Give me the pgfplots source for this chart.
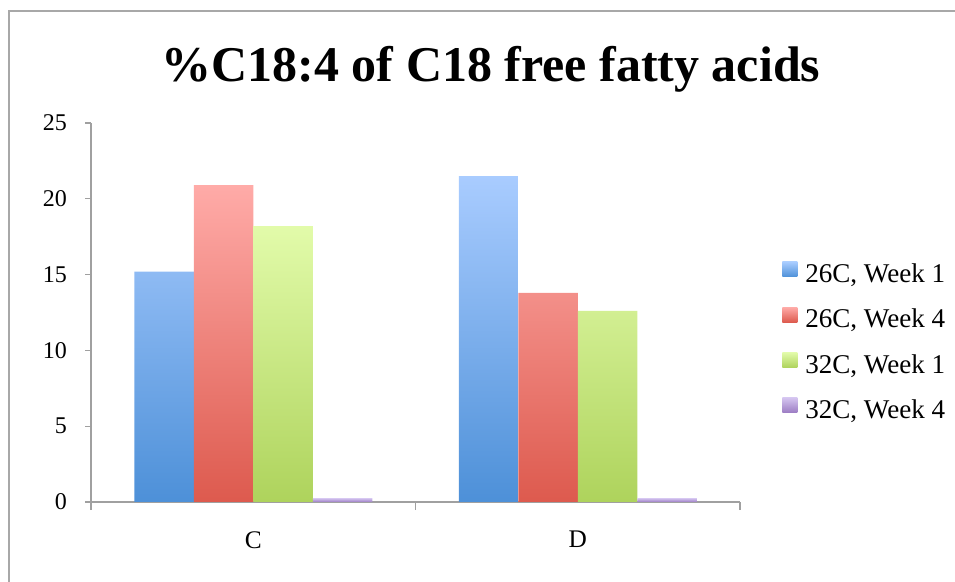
\documentclass[border=0pt]{standalone}
\usepackage{fontspec}
\setmainfont{Liberation Serif}
\usepackage{pgfplots}
\pgfplotsset{compat=1.18}
\definecolor{blueT}{HTML}{A9CCFF}
\definecolor{blueB}{HTML}{4D90D8}
\definecolor{redT}{HTML}{FFABA8}
\definecolor{redB}{HTML}{DD5A4E}
\definecolor{greenT}{HTML}{E2FBAA}
\definecolor{greenB}{HTML}{AED35C}
\definecolor{purpT}{HTML}{D4C4F0}
\definecolor{purpB}{HTML}{9B7BC3}
\definecolor{axgray}{HTML}{A0A0A0}
\definecolor{framegray}{HTML}{A8A8A8}
\begin{document}
\begin{tikzpicture}[x=0.75pt,y=0.75pt]
\useasboundingbox (0,0) rectangle (955,581);
\draw[framegray, line width=1.5pt] (9,570) rectangle (975,-20);
\node[font=\fontsize{37.5}{40}\selectfont\bfseries, anchor=base] at (491,499) {\%C18:4 of C18 free fatty acids};
\begin{axis}[
  at={(68.25pt,59.25pt)}, anchor=south west,
  width=486.75pt, height=284.25pt, scale only axis,
  xmin=-0.5, xmax=1.5, ymin=0, ymax=25,
  enlargelimits=false,
  axis lines=left,
  axis line style={-, draw=axgray, line width=1pt},
  tick style={draw=axgray, line width=1pt},
  tick align=outside,
  major tick length=4.5pt,
  minor tick length=6pt,
  ytick={0,5,...,25},
  xtick={0,1}, xticklabels={C,D},
  major x tick style={draw=none},
  minor xtick={-0.5,0.5,1.5},
  /pgf/number format/assume math mode=true,
  tick label style={font=\fontsize{18}{20}\selectfont},
  xticklabel style={yshift=-14pt, font=\fontsize{19}{21}\selectfont},
  yticklabel style={xshift=-10pt},
  ybar=0pt, bar width=44.625pt,
  legend style={draw=none, fill=none, at={(1.0647,0.422)}, anchor=west,
    font=\fontsize{20.3}{22}\selectfont, row sep=14.4pt, column sep=4pt, inner sep=0pt},
  legend cell align=left,
  legend image code/.code={\path[#1] (0pt,-2.1pt) rectangle (11.25pt,9.15pt);},
]
\addplot[draw=none, top color=blueT, bottom color=blueB] coordinates {(0,15.2) (1,21.5)};
\addplot[draw=none, top color=redT, bottom color=redB] coordinates {(0,20.9) (1,13.8)};
\addplot[draw=none, top color=greenT, bottom color=greenB] coordinates {(0,18.2) (1,12.6)};
\addplot[draw=none, top color=purpT, bottom color=purpB] coordinates {(0,0.25) (1,0.25)};
\legend{{26C, Week 1},{26C, Week 4},{32C, Week 1},{32C, Week 4}}
\end{axis}
\end{tikzpicture}
\end{document}
